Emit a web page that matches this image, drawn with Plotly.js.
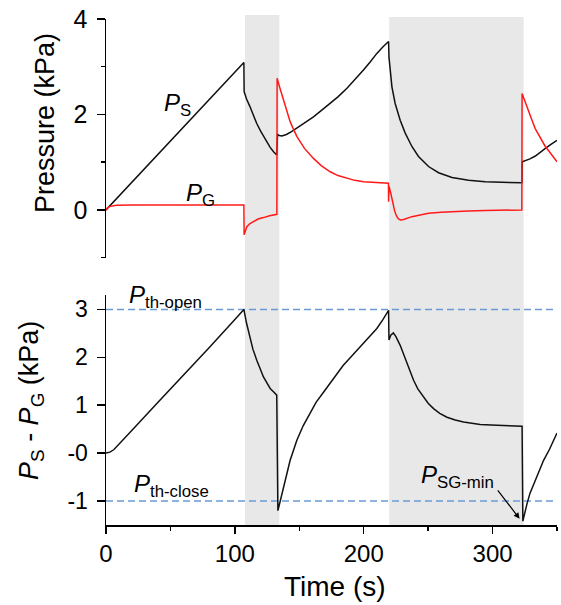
<!DOCTYPE html>
<html>
<head>
<meta charset="utf-8">
<script src="https://cdn.plot.ly/plotly-3.0.1.min.js"></script>
<style>html,body{margin:0;padding:0;background:#fff;}#chart{width:561px;height:605px;}</style>
</head>
<body>
<div id="chart"></div>
<script>
// ---- Data ----
// Top panel: P_S (black)
var tS = [0,20,40,60,80,100,107,107.2,109,111.8,114,117,120,122.2,125,127.4,130,132.5,133.1,134.5,136.5,140,144,148,154,161,167,174,180,187,193,199.8,205,210.2,215,219.3,219.6,221.9,224.4,228.3,232.2,237.4,242.5,250.3,258.1,268.5,281.4,294.3,307.3,322.8,323.0,325.4,329,333.2,337,341,345,350];
var pS = [0,0.58,1.16,1.73,2.31,2.88,3.09,2.48,2.33,2.16,2.00,1.81,1.65,1.54,1.42,1.31,1.22,1.15,1.58,1.56,1.55,1.58,1.64,1.71,1.82,1.95,2.08,2.23,2.37,2.55,2.72,2.93,3.10,3.28,3.42,3.53,3.20,2.58,2.23,1.88,1.61,1.33,1.12,0.91,0.78,0.68,0.62,0.59,0.58,0.57,1.01,1.03,1.07,1.13,1.20,1.29,1.37,1.46];
// Top panel: P_G (red)
var tG = [0,1,2.5,5,8,20,107,107.2,108.3,109.3,111.5,114.4,118,122.2,127,132.6,132.8,135,137.7,140,142.9,145,148.1,154,161,167,174,180,187,193,199.8,210,219.2,219.3,219.6,221,222.5,224,225.5,227,228.5,231,237.4,244,250.3,260,268.5,281,294.3,322.7,322.9,325.4,328,330.6,333,335.7,338,340.9,343.5,346.1,350];
var pG = [0,0.04,0.07,0.09,0.10,0.105,0.105,-0.52,-0.42,-0.35,-0.29,-0.24,-0.19,-0.16,-0.12,-0.09,2.76,2.55,2.30,2.07,1.85,1.72,1.54,1.29,1.08,0.93,0.80,0.72,0.66,0.62,0.59,0.57,0.56,0.17,0.50,0.35,0.15,-0.02,-0.13,-0.19,-0.21,-0.20,-0.14,-0.10,-0.07,-0.05,-0.035,-0.02,-0.01,0.0,2.44,2.27,2.06,1.88,1.71,1.57,1.45,1.33,1.24,1.15,1.01];
// Bottom panel: P_S - P_G
var tD = [0,3,6,10,20,40,60,80,100,107,109,111.8,114,117,120,122.2,125,127.4,130,132.5,133.4,134.5,136,137.7,140,142.9,145,148.1,153,158.4,163,168.8,174,179.1,184,189.5,195,199.8,205,210.2,215,219.3,219.6,221,223,225,228.3,231,233.5,236,238.7,242,246.4,250,254.2,259,264.6,271,277.5,290.4,303.4,322.9,323.5,324.5,326.7,329,331.9,335,339.6,344,350];
var dSG = [0,0.02,0.07,0.18,0.47,1.05,1.62,2.20,2.79,3.00,2.72,2.42,2.17,1.94,1.73,1.59,1.46,1.35,1.28,1.21,-1.20,-1.08,-0.90,-0.71,-0.44,-0.15,0.02,0.27,0.57,0.82,1.06,1.27,1.47,1.66,1.83,1.99,2.15,2.29,2.45,2.60,2.79,2.98,2.36,2.46,2.51,2.43,2.25,2.06,1.87,1.69,1.52,1.34,1.17,1.04,0.93,0.83,0.75,0.69,0.65,0.60,0.58,0.56,-1.42,-1.30,-1.06,-0.84,-0.64,-0.44,-0.15,0.07,0.42];
// Thresholds
var thOpen = 3.0;
var thClose = -1.0;
// Shaded intervals (s)
var bandStart = [107.9, 219.8];
var bandEnd = [134.5, 324.1];
// Axis ticks
var xTicks = [0,100,200,300];
var xMinor = [50,150,250,350];
var topTicks = [0,2,4];
var topMinor = [-1,1,3];
var botTicks = [-1,0,1,2,3];
var botTickText = ['-1','-0','1','2','3'];

// ---- Layout helpers ----
var FONT = 'Liberation Sans, Arial, sans-serif';
var L = 106, R = 4, T = 19, B = 80, W = 561, H = 605;
var PW = W - L - R, PH = H - T - B;
function px(x){ return (x - L) / PW; }
function py(y){ return (H - B - y) / PH; }

var blue = '#6a9ad6';
var traces = [
  {x: tS, y: pS, xaxis:'x2', yaxis:'y2', mode:'lines', line:{color:'#111', width:1.5}, hoverinfo:'skip'},
  {x: tG, y: pG, xaxis:'x2', yaxis:'y2', mode:'lines', line:{color:'#ff1a1a', width:1.5}, hoverinfo:'skip'},
  {x: [0,350], y: [thOpen, thOpen], xaxis:'x', yaxis:'y', mode:'lines', line:{color:blue, width:1.5, dash:'7px,4px'}, hoverinfo:'skip'},
  {x: [0,350], y: [thClose, thClose], xaxis:'x', yaxis:'y', mode:'lines', line:{color:blue, width:1.5, dash:'7px,4px'}, hoverinfo:'skip'},
  {x: tD, y: dSG, xaxis:'x', yaxis:'y', mode:'lines', line:{color:'#111', width:1.5}, hoverinfo:'skip'}
];

var shapes = [];
var bandTop = [py(15), py(17)];
for (var i = 0; i < bandStart.length; i++) {
  shapes.push({type:'rect', xref:'x', yref:'paper', x0: bandStart[i], x1: bandEnd[i], y0: 0, y1: bandTop[i],
    fillcolor:'#e8e8e8', line:{width:0}, layer:'below'});
}

function lab(text, x, y, size, xanchor){
  return {xref:'paper', yref:'paper', x: px(x), y: py(y), text: text, showarrow:false,
    xanchor: xanchor || 'left', yanchor:'middle', font:{family:FONT, size:size, color:'#000'}};
}

var annotations = [
  lab('<i>P</i><sub>S</sub>', 162, 104, 24),
  lab('<i>P</i><sub>G</sub>', 184, 194, 24),
  lab('<i>P</i><sub>th-open</sub>', 127, 297, 24),
  lab('<i>P</i><sub>th-close</sub>', 132, 485, 24),
  lab('<i>P</i><sub>SG-min</sub>', 419, 476, 24),
  {xref:'x', yref:'y', x: 321, y: -1.37, ax: -23, ay: -30, text:'', showarrow:true,
    arrowhead:2, arrowsize:1, arrowwidth:1.2, arrowcolor:'#000', standoff:0, startstandoff:0},
  {xref:'paper', yref:'paper', x: px(45), y: py(123), text:'Pressure (kPa)', textangle:-90, showarrow:false,
    xanchor:'center', yanchor:'middle', font:{family:FONT, size:27, color:'#000'}},
  {xref:'paper', yref:'paper', x: px(31), y: py(401), text:'<i>P</i><sub>S</sub> - <i>P</i><sub>G</sub> (kPa)', textangle:-90, showarrow:false,
    xanchor:'center', yanchor:'middle', font:{family:FONT, size:27, color:'#000'}},
  {xref:'paper', yref:'paper', x: px(335), y: py(586), text:'Time (s)', showarrow:false,
    xanchor:'center', yanchor:'middle', font:{family:FONT, size:28, color:'#000'}}
];

var layout = {
  width: W, height: H,
  margin: {l:L, r:R, t:T, b:B, pad:0},
  paper_bgcolor:'#fff', plot_bgcolor:'rgba(0,0,0,0)',
  showlegend:false,
  font:{family:FONT, color:'#000'},
  xaxis: {domain:[0,1], range:[0,350], anchor:'y', showline:true, linecolor:'#000', linewidth:1.5,
    ticks:'outside', ticklen:7, tickwidth:1.5, tickcolor:'#000', tickmode:'array', tickvals:xTicks,
    tickfont:{family:FONT, size:24, color:'#000'}, showgrid:false, zeroline:false,
    minor:{tickmode:'array', tickvals:xMinor, ticks:'outside', ticklen:4, tickwidth:1.5, tickcolor:'#000', showgrid:false}},
  xaxis2: {domain:[0,1], range:[0,350], anchor:'y2', matches:'x', visible:false, showgrid:false, zeroline:false},
  yaxis: {domain:[0, py(295)], range:[-1.5, 3.3], anchor:'x', showline:true, linecolor:'#000', linewidth:1.5,
    ticks:'outside', ticklen:8, tickwidth:1.5, tickcolor:'#000', tickmode:'array', tickvals:botTicks, ticktext:botTickText,
    tickfont:{family:FONT, size:23, color:'#000'}, ticklabelstandoff:4, showgrid:false, zeroline:false},
  yaxis2: {domain:[py(257.7), 1], range:[-1, 4], anchor:'x2', showline:true, linecolor:'#000', linewidth:1.5,
    ticks:'outside', ticklen:8, tickwidth:1.5, tickcolor:'#000', tickmode:'array', tickvals:topTicks,
    tickfont:{family:FONT, size:25, color:'#000'}, ticklabelstandoff:4, showgrid:false, zeroline:false,
    minor:{tickmode:'array', tickvals:topMinor, ticks:'outside', ticklen:4, tickwidth:1.5, tickcolor:'#000', showgrid:false}},
  shapes: shapes,
  annotations: annotations
};

Plotly.newPlot('chart', traces, layout, {staticPlot:true, displayModeBar:false});
</script>
</body>
</html>
